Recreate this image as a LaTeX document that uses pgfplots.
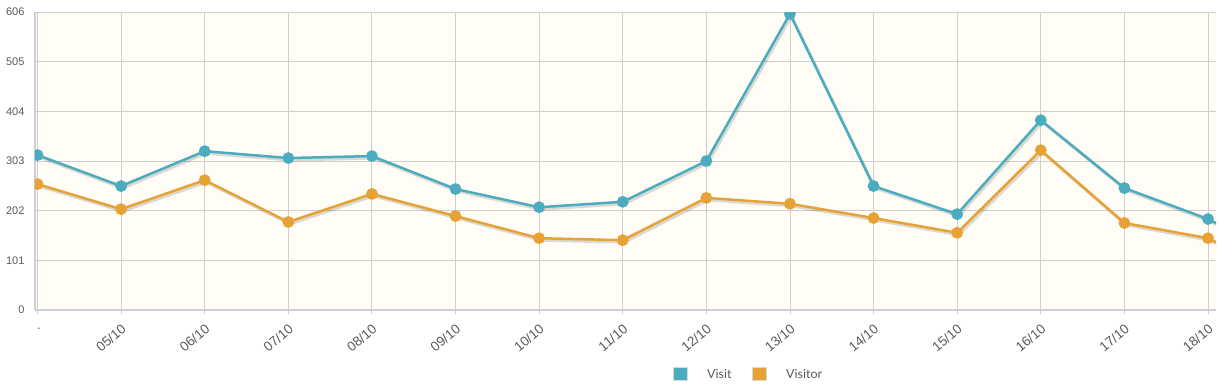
\documentclass[border=0pt]{standalone}
\usepackage{fontspec}
\setmainfont{Liberation Sans}
\newfontfamily\lato{Lato}
\usepackage{pgfplots}
\pgfplotsset{compat=1.18}
\definecolor{visit}{RGB}{75,172,192}
\definecolor{visitor}{RGB}{230,162,52}
\definecolor{cream}{RGB}{255,253,245}
\definecolor{gridc}{RGB}{206,206,206}
\definecolor{lab}{RGB}{90,90,90}
\begin{document}
\begin{tikzpicture}[x=1pt,y=1pt]
\useasboundingbox (-35,-74) rectangle (1184,310);
\begin{axis}[
  at={(0,0)}, anchor=south west,
  scale only axis, width=1181pt, height=298pt,
  xmin=-0.03, xmax=14.0957, ymin=0, ymax=606,
  xtick={0,...,14},
  xticklabels={., 05/10, 06/10, 07/10, 08/10, 09/10, 10/10, 11/10, 12/10, 13/10, 14/10, 15/10, 16/10, 17/10, 18/10},
  ytick={0,101,202,303,404,505,606},
  /pgf/number format/assume math mode=true,
  grid=major, grid style={gridc, line width=0.9pt},
  axis lines*=left,
  axis line style={gridc, line width=1.2pt, -},
  tick align=outside, major tick length=4pt,
  xtick style={gridc, line width=0.9pt},
  ytick style={draw=none},
  axis background/.style={fill=cream},
  yticklabel style={font=\fontsize{11}{13}\selectfont, color=lab, anchor=east, xshift=-3pt},
  xticklabel style={font=\fontsize{13.5}{15}\selectfont, color=lab, rotate=40, anchor=east, yshift=-12pt, xshift=-3pt},
  clip marker paths=true,
]
\addplot[black, opacity=0.14, line width=3pt, no markers, xshift=1.5pt, yshift=-2pt, forget plot] coordinates {
(0,315)(1,252)(2,323)(3,309)(4,313)(5,246)(6,209)(7,220)(8,303)(9,602)(10,252)(11,195)(12,386)(13,248)(14,185)(15,100)};
\addplot[black, opacity=0.14, line width=3pt, no markers, xshift=1.5pt, yshift=-2pt, forget plot] coordinates {
(0,256)(1,205)(2,264)(3,179)(4,236)(5,191)(6,146)(7,142)(8,228)(9,216)(10,187)(11,157)(12,325)(13,177)(14,146)(15,61)};
\addplot[visitor, line width=2.5pt, mark=*, mark size=4.6pt, mark options={solid, draw=none, fill=visitor}] coordinates {
(0,256)(1,205)(2,264)(3,179)(4,236)(5,191)(6,146)(7,142)(8,228)(9,216)(10,187)(11,157)(12,325)(13,177)(14,146)(15,61)};
\addplot[visit, line width=2.5pt, mark=*, mark size=4.6pt, mark options={solid, draw=none, fill=visit}] coordinates {
(0,315)(1,252)(2,323)(3,309)(4,313)(5,246)(6,209)(7,220)(8,303)(9,602)(10,252)(11,195)(12,386)(13,248)(14,185)(15,100)};
\end{axis}
\filldraw[fill=visit, draw=black!15, line width=0.8pt] (638,-70) rectangle (652,-57);
\node[anchor=base west, inner sep=0pt, font=\lato\fontsize{12.5}{14}\selectfont, text=lab] at (672,-68) {Visit};
\filldraw[fill=visitor, draw=black!15, line width=0.8pt] (717,-70) rectangle (731,-57);
\node[anchor=base west, inner sep=0pt, font=\lato\fontsize{12.5}{14}\selectfont, text=lab] at (751,-68) {Visitor};
\end{tikzpicture}
\end{document}
